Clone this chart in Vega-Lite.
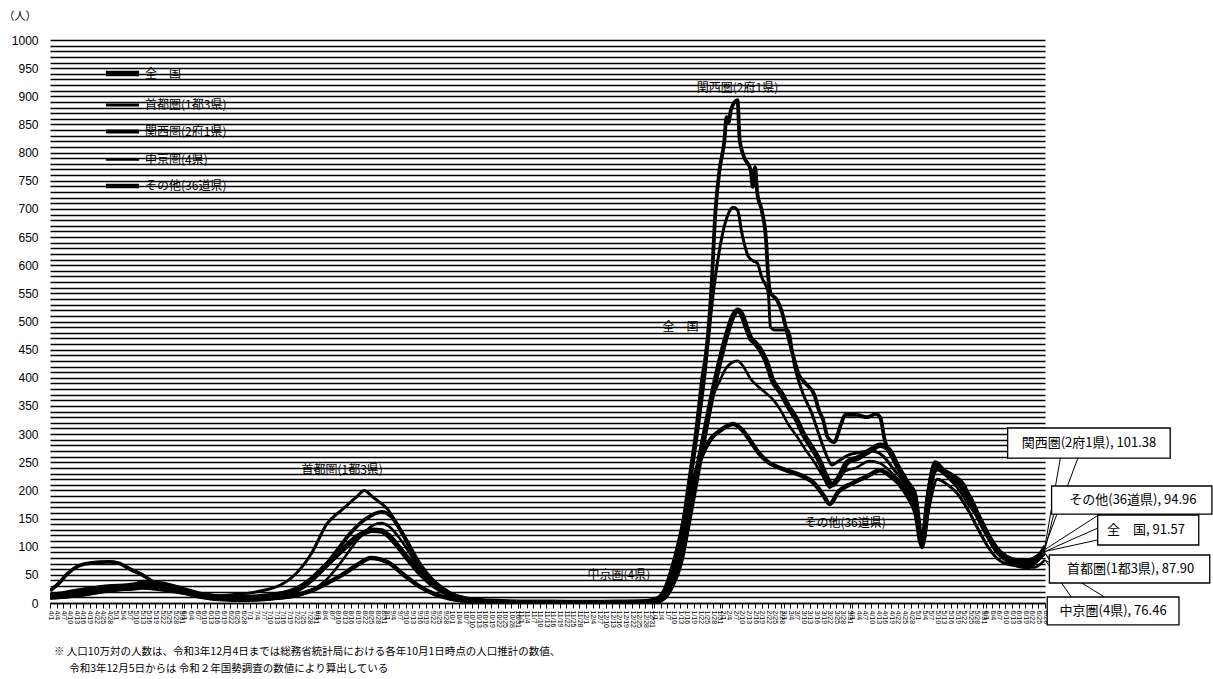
{
"$schema": "https://vega.github.io/schema/vega-lite/v6.json",
"width": 995,
"height": 563,
"autosize": "none",
"padding": {"left": 50, "top": 40, "right": 168, "bottom": 76},
"background": "white",
"config": {"view": {"stroke": null}, "font": "Noto Sans CJK JP"},
"title": {"text": ["※ 人口10万対の人数は、令和3年12月4日までは総務省統計局における各年10月1日時点の人口推計の数値、", "\u200b\u3000\u00a0\u00a0令和3年12月5日からは 令和２年国勢調査の数値により算出している"], "orient": "bottom", "anchor": "start", "frame": "group", "fontSize": 10.5, "fontWeight": "normal", "font": "Noto Sans CJK JP", "color": "#000", "lineHeight": 17, "offset": 19, "dx": 4},
"datasets": {
"series": [
{"d":"2021-04-01","s":"全　国","v":13},{"d":"2021-04-08","s":"全　国","v":17},{"d":"2021-04-15","s":"全　国","v":22},{"d":"2021-04-22","s":"全　国","v":26},{"d":"2021-04-29","s":"全　国","v":29},{"d":"2021-05-06","s":"全　国","v":30},{"d":"2021-05-13","s":"全　国","v":33},{"d":"2021-05-20","s":"全　国","v":31},{"d":"2021-05-27","s":"全　国","v":25},{"d":"2021-06-03","s":"全　国","v":18},{"d":"2021-06-10","s":"全　国","v":13},{"d":"2021-06-17","s":"全　国","v":10},{"d":"2021-06-24","s":"全　国","v":9},{"d":"2021-07-01","s":"全　国","v":10},{"d":"2021-07-08","s":"全　国","v":12},{"d":"2021-07-15","s":"全　国","v":16},{"d":"2021-07-22","s":"全　国","v":24},{"d":"2021-07-29","s":"全　国","v":42},{"d":"2021-08-05","s":"全　国","v":68},{"d":"2021-08-12","s":"全　国","v":94},{"d":"2021-08-19","s":"全　国","v":118},{"d":"2021-08-26","s":"全　国","v":129},{"d":"2021-08-30","s":"全　国","v":128},{"d":"2021-09-02","s":"全　国","v":120},{"d":"2021-09-09","s":"全　国","v":88},{"d":"2021-09-16","s":"全　国","v":55},{"d":"2021-09-23","s":"全　国","v":30},{"d":"2021-09-30","s":"全　国","v":15},{"d":"2021-10-07","s":"全　国","v":7},{"d":"2021-10-14","s":"全　国","v":4},{"d":"2021-10-21","s":"全　国","v":2.5},{"d":"2021-11-01","s":"全　国","v":1.5},{"d":"2021-11-15","s":"全　国","v":1.2},{"d":"2021-12-01","s":"全　国","v":1},{"d":"2021-12-15","s":"全　国","v":1.2},{"d":"2021-12-28","s":"全　国","v":2},{"d":"2022-01-03","s":"全　国","v":4},{"d":"2022-01-06","s":"全　国","v":12},{"d":"2022-01-09","s":"全　国","v":30},{"d":"2022-01-13","s":"全　国","v":72},{"d":"2022-01-16","s":"全　国","v":130},{"d":"2022-01-20","s":"全　国","v":215},{"d":"2022-01-24","s":"全　国","v":300},{"d":"2022-01-27","s":"全　国","v":360},{"d":"2022-01-31","s":"全　国","v":430},{"d":"2022-02-03","s":"全　国","v":475},{"d":"2022-02-06","s":"全　国","v":510},{"d":"2022-02-08","s":"全　国","v":520},{"d":"2022-02-10","s":"全　国","v":512},{"d":"2022-02-12","s":"全　国","v":490},{"d":"2022-02-14","s":"全　国","v":470},{"d":"2022-02-16","s":"全　国","v":462},{"d":"2022-02-18","s":"全　国","v":452},{"d":"2022-02-21","s":"全　国","v":430},{"d":"2022-02-24","s":"全　国","v":395},{"d":"2022-02-28","s":"全　国","v":372},{"d":"2022-03-03","s":"全　国","v":350},{"d":"2022-03-07","s":"全　国","v":325},{"d":"2022-03-10","s":"全　国","v":300},{"d":"2022-03-14","s":"全　国","v":275},{"d":"2022-03-17","s":"全　国","v":255},{"d":"2022-03-20","s":"全　国","v":228},{"d":"2022-03-23","s":"全　国","v":210},{"d":"2022-03-26","s":"全　国","v":222},{"d":"2022-03-30","s":"全　国","v":250},{"d":"2022-04-04","s":"全　国","v":258},{"d":"2022-04-09","s":"全　国","v":270},{"d":"2022-04-14","s":"全　国","v":280},{"d":"2022-04-18","s":"全　国","v":272},{"d":"2022-04-22","s":"全　国","v":242},{"d":"2022-04-26","s":"全　国","v":215},{"d":"2022-04-30","s":"全　国","v":180},{"d":"2022-05-03","s":"全　国","v":106},{"d":"2022-05-06","s":"全　国","v":190},{"d":"2022-05-09","s":"全　国","v":245},{"d":"2022-05-13","s":"全　国","v":232},{"d":"2022-05-17","s":"全　国","v":222},{"d":"2022-05-21","s":"全　国","v":208},{"d":"2022-05-25","s":"全　国","v":185},{"d":"2022-05-29","s":"全　国","v":150},{"d":"2022-06-02","s":"全　国","v":120},{"d":"2022-06-06","s":"全　国","v":96},{"d":"2022-06-10","s":"全　国","v":82},{"d":"2022-06-15","s":"全　国","v":75},{"d":"2022-06-20","s":"全　国","v":74},{"d":"2022-06-24","s":"全　国","v":80},{"d":"2022-06-28","s":"全　国","v":91.57},

{"d":"2021-04-01","s":"首都圏(1都3県)","v":14},{"d":"2021-04-08","s":"首都圏(1都3県)","v":16},{"d":"2021-04-15","s":"首都圏(1都3県)","v":18},{"d":"2021-04-22","s":"首都圏(1都3県)","v":22},{"d":"2021-04-29","s":"首都圏(1都3県)","v":25},{"d":"2021-05-06","s":"首都圏(1都3県)","v":24},{"d":"2021-05-13","s":"首都圏(1都3県)","v":26},{"d":"2021-05-20","s":"首都圏(1都3県)","v":24},{"d":"2021-05-27","s":"首都圏(1都3県)","v":20},{"d":"2021-06-03","s":"首都圏(1都3県)","v":16},{"d":"2021-06-10","s":"首都圏(1都3県)","v":13},{"d":"2021-06-17","s":"首都圏(1都3県)","v":13},{"d":"2021-06-24","s":"首都圏(1都3県)","v":15},{"d":"2021-07-01","s":"首都圏(1都3県)","v":18},{"d":"2021-07-08","s":"首都圏(1都3県)","v":23},{"d":"2021-07-15","s":"首都圏(1都3県)","v":32},{"d":"2021-07-22","s":"首都圏(1都3県)","v":52},{"d":"2021-07-29","s":"首都圏(1都3県)","v":88},{"d":"2021-08-05","s":"首都圏(1都3県)","v":140},{"d":"2021-08-12","s":"首都圏(1都3県)","v":166},{"d":"2021-08-19","s":"首都圏(1都3県)","v":190},{"d":"2021-08-22","s":"首都圏(1都3県)","v":200},{"d":"2021-08-26","s":"首都圏(1都3県)","v":188},{"d":"2021-09-02","s":"首都圏(1都3県)","v":165},{"d":"2021-09-09","s":"首都圏(1都3県)","v":118},{"d":"2021-09-16","s":"首都圏(1都3県)","v":66},{"d":"2021-09-23","s":"首都圏(1都3県)","v":33},{"d":"2021-09-30","s":"首都圏(1都3県)","v":15},{"d":"2021-10-07","s":"首都圏(1都3県)","v":7},{"d":"2021-10-14","s":"首都圏(1都3県)","v":3.5},{"d":"2021-10-21","s":"首都圏(1都3県)","v":2},{"d":"2021-11-01","s":"首都圏(1都3県)","v":1},{"d":"2021-11-15","s":"首都圏(1都3県)","v":0.8},{"d":"2021-12-01","s":"首都圏(1都3県)","v":0.8},{"d":"2021-12-15","s":"首都圏(1都3県)","v":1},{"d":"2021-12-28","s":"首都圏(1都3県)","v":2},{"d":"2022-01-03","s":"首都圏(1都3県)","v":5},{"d":"2022-01-06","s":"首都圏(1都3県)","v":14},{"d":"2022-01-09","s":"首都圏(1都3県)","v":40},{"d":"2022-01-13","s":"首都圏(1都3県)","v":95},{"d":"2022-01-16","s":"首都圏(1都3県)","v":170},{"d":"2022-01-20","s":"首都圏(1都3県)","v":280},{"d":"2022-01-24","s":"首都圏(1都3県)","v":400},{"d":"2022-01-28","s":"首都圏(1都3県)","v":551},{"d":"2022-01-31","s":"首都圏(1都3県)","v":632},{"d":"2022-02-04","s":"首都圏(1都3県)","v":693},{"d":"2022-02-06","s":"首都圏(1都3県)","v":703},{"d":"2022-02-08","s":"首都圏(1都3県)","v":698},{"d":"2022-02-10","s":"首都圏(1都3県)","v":657},{"d":"2022-02-13","s":"首都圏(1都3県)","v":615},{"d":"2022-02-16","s":"首都圏(1都3県)","v":606},{"d":"2022-02-17","s":"首都圏(1都3県)","v":604},{"d":"2022-02-19","s":"首都圏(1都3県)","v":579},{"d":"2022-02-22","s":"首都圏(1都3県)","v":551},{"d":"2022-02-23","s":"首都圏(1都3県)","v":490},{"d":"2022-02-25","s":"首都圏(1都3県)","v":485},{"d":"2022-03-03","s":"首都圏(1都3県)","v":485},{"d":"2022-03-06","s":"首都圏(1都3県)","v":420},{"d":"2022-03-10","s":"首都圏(1都3県)","v":370},{"d":"2022-03-14","s":"首都圏(1都3県)","v":335},{"d":"2022-03-17","s":"首都圏(1都3県)","v":300},{"d":"2022-03-21","s":"首都圏(1都3県)","v":258},{"d":"2022-03-23","s":"首都圏(1都3県)","v":245},{"d":"2022-03-26","s":"首都圏(1都3県)","v":252},{"d":"2022-03-30","s":"首都圏(1都3県)","v":262},{"d":"2022-04-05","s":"首都圏(1都3県)","v":268},{"d":"2022-04-10","s":"首都圏(1都3県)","v":270},{"d":"2022-04-15","s":"首都圏(1都3県)","v":262},{"d":"2022-04-20","s":"首都圏(1都3県)","v":238},{"d":"2022-04-25","s":"首都圏(1都3県)","v":212},{"d":"2022-04-30","s":"首都圏(1都3県)","v":168},{"d":"2022-05-03","s":"首都圏(1都3県)","v":98},{"d":"2022-05-06","s":"首都圏(1都3県)","v":165},{"d":"2022-05-10","s":"首都圏(1都3県)","v":220},{"d":"2022-05-14","s":"首都圏(1都3県)","v":212},{"d":"2022-05-19","s":"首都圏(1都3県)","v":195},{"d":"2022-05-24","s":"首都圏(1都3県)","v":165},{"d":"2022-05-29","s":"首都圏(1都3県)","v":128},{"d":"2022-06-02","s":"首都圏(1都3県)","v":100},{"d":"2022-06-06","s":"首都圏(1都3県)","v":80},{"d":"2022-06-12","s":"首都圏(1都3県)","v":68},{"d":"2022-06-18","s":"首都圏(1都3県)","v":66},{"d":"2022-06-23","s":"首都圏(1都3県)","v":72},{"d":"2022-06-28","s":"首都圏(1都3県)","v":87.9},

{"d":"2021-04-01","s":"関西圏(2府1県)","v":22},{"d":"2021-04-05","s":"関西圏(2府1県)","v":35},{"d":"2021-04-09","s":"関西圏(2府1県)","v":52},{"d":"2021-04-14","s":"関西圏(2府1県)","v":66},{"d":"2021-04-19","s":"関西圏(2府1県)","v":71},{"d":"2021-04-28","s":"関西圏(2府1県)","v":73},{"d":"2021-05-02","s":"関西圏(2府1県)","v":71},{"d":"2021-05-08","s":"関西圏(2府1県)","v":59},{"d":"2021-05-13","s":"関西圏(2府1県)","v":50},{"d":"2021-05-19","s":"関西圏(2府1県)","v":35},{"d":"2021-05-28","s":"関西圏(2府1県)","v":23},{"d":"2021-06-08","s":"関西圏(2府1県)","v":11},{"d":"2021-06-23","s":"関西圏(2府1県)","v":5},{"d":"2021-07-05","s":"関西圏(2府1県)","v":6},{"d":"2021-07-15","s":"関西圏(2府1県)","v":11},{"d":"2021-07-26","s":"関西圏(2府1県)","v":30},{"d":"2021-08-02","s":"関西圏(2府1県)","v":55},{"d":"2021-08-09","s":"関西圏(2府1県)","v":90},{"d":"2021-08-16","s":"関西圏(2府1県)","v":125},{"d":"2021-08-23","s":"関西圏(2府1県)","v":150},{"d":"2021-08-30","s":"関西圏(2府1県)","v":162},{"d":"2021-09-03","s":"関西圏(2府1県)","v":155},{"d":"2021-09-09","s":"関西圏(2府1県)","v":120},{"d":"2021-09-16","s":"関西圏(2府1県)","v":72},{"d":"2021-09-23","s":"関西圏(2府1県)","v":38},{"d":"2021-09-30","s":"関西圏(2府1県)","v":18},{"d":"2021-10-07","s":"関西圏(2府1県)","v":8},{"d":"2021-10-14","s":"関西圏(2府1県)","v":4},{"d":"2021-10-21","s":"関西圏(2府1県)","v":2.5},{"d":"2021-11-01","s":"関西圏(2府1県)","v":1.5},{"d":"2021-11-15","s":"関西圏(2府1県)","v":1},{"d":"2021-12-01","s":"関西圏(2府1県)","v":1},{"d":"2021-12-15","s":"関西圏(2府1県)","v":1.2},{"d":"2021-12-28","s":"関西圏(2府1県)","v":2},{"d":"2022-01-03","s":"関西圏(2府1県)","v":5},{"d":"2022-01-06","s":"関西圏(2府1県)","v":14},{"d":"2022-01-09","s":"関西圏(2府1県)","v":38},{"d":"2022-01-13","s":"関西圏(2府1県)","v":105},{"d":"2022-01-16","s":"関西圏(2府1県)","v":190},{"d":"2022-01-20","s":"関西圏(2府1県)","v":300},{"d":"2022-01-23","s":"関西圏(2府1県)","v":400},{"d":"2022-01-25","s":"関西圏(2府1県)","v":455},{"d":"2022-01-27","s":"関西圏(2府1県)","v":551},{"d":"2022-01-29","s":"関西圏(2府1県)","v":698},{"d":"2022-01-31","s":"関西圏(2府1県)","v":774},{"d":"2022-02-02","s":"関西圏(2府1県)","v":820},{"d":"2022-02-03","s":"関西圏(2府1県)","v":863},{"d":"2022-02-04","s":"関西圏(2府1県)","v":854},{"d":"2022-02-05","s":"関西圏(2府1県)","v":876},{"d":"2022-02-08","s":"関西圏(2府1県)","v":893},{"d":"2022-02-09","s":"関西圏(2府1県)","v":822},{"d":"2022-02-11","s":"関西圏(2府1県)","v":792},{"d":"2022-02-14","s":"関西圏(2府1県)","v":769},{"d":"2022-02-15","s":"関西圏(2府1県)","v":739},{"d":"2022-02-16","s":"関西圏(2府1県)","v":774},{"d":"2022-02-17","s":"関西圏(2府1県)","v":728},{"d":"2022-02-19","s":"関西圏(2府1県)","v":698},{"d":"2022-02-21","s":"関西圏(2府1県)","v":645},{"d":"2022-02-22","s":"関西圏(2府1県)","v":579},{"d":"2022-02-23","s":"関西圏(2府1県)","v":551},{"d":"2022-02-26","s":"関西圏(2府1県)","v":538},{"d":"2022-02-28","s":"関西圏(2府1県)","v":520},{"d":"2022-03-02","s":"関西圏(2府1県)","v":490},{"d":"2022-03-05","s":"関西圏(2府1県)","v":444},{"d":"2022-03-08","s":"関西圏(2府1県)","v":405},{"d":"2022-03-11","s":"関西圏(2府1県)","v":390},{"d":"2022-03-15","s":"関西圏(2府1県)","v":370},{"d":"2022-03-17","s":"関西圏(2府1県)","v":343},{"d":"2022-03-19","s":"関西圏(2府1県)","v":325},{"d":"2022-03-21","s":"関西圏(2府1県)","v":295},{"d":"2022-03-24","s":"関西圏(2府1県)","v":286},{"d":"2022-03-27","s":"関西圏(2府1県)","v":316},{"d":"2022-03-29","s":"関西圏(2府1県)","v":334},{"d":"2022-04-03","s":"関西圏(2府1県)","v":334},{"d":"2022-04-08","s":"関西圏(2府1県)","v":330},{"d":"2022-04-12","s":"関西圏(2府1県)","v":336},{"d":"2022-04-14","s":"関西圏(2府1県)","v":329},{"d":"2022-04-16","s":"関西圏(2府1県)","v":290},{"d":"2022-04-21","s":"関西圏(2府1県)","v":250},{"d":"2022-04-25","s":"関西圏(2府1県)","v":222},{"d":"2022-04-30","s":"関西圏(2府1県)","v":192},{"d":"2022-05-03","s":"関西圏(2府1県)","v":103},{"d":"2022-05-06","s":"関西圏(2府1県)","v":200},{"d":"2022-05-09","s":"関西圏(2府1県)","v":250},{"d":"2022-05-13","s":"関西圏(2府1県)","v":236},{"d":"2022-05-17","s":"関西圏(2府1県)","v":227},{"d":"2022-05-22","s":"関西圏(2府1県)","v":210},{"d":"2022-05-26","s":"関西圏(2府1県)","v":174},{"d":"2022-05-31","s":"関西圏(2府1県)","v":139},{"d":"2022-06-04","s":"関西圏(2府1県)","v":103},{"d":"2022-06-09","s":"関西圏(2府1県)","v":80},{"d":"2022-06-16","s":"関西圏(2府1県)","v":71},{"d":"2022-06-23","s":"関西圏(2府1県)","v":76},{"d":"2022-06-28","s":"関西圏(2府1県)","v":101.38},

{"d":"2021-04-01","s":"中京圏(4県)","v":8},{"d":"2021-04-08","s":"中京圏(4県)","v":10},{"d":"2021-04-15","s":"中京圏(4県)","v":13},{"d":"2021-04-22","s":"中京圏(4県)","v":18},{"d":"2021-04-29","s":"中京圏(4県)","v":24},{"d":"2021-05-06","s":"中京圏(4県)","v":28},{"d":"2021-05-13","s":"中京圏(4県)","v":38},{"d":"2021-05-20","s":"中京圏(4県)","v":36},{"d":"2021-05-27","s":"中京圏(4県)","v":28},{"d":"2021-06-03","s":"中京圏(4県)","v":20},{"d":"2021-06-10","s":"中京圏(4県)","v":12},{"d":"2021-06-17","s":"中京圏(4県)","v":8},{"d":"2021-06-24","s":"中京圏(4県)","v":6},{"d":"2021-07-01","s":"中京圏(4県)","v":5},{"d":"2021-07-08","s":"中京圏(4県)","v":6},{"d":"2021-07-15","s":"中京圏(4県)","v":8},{"d":"2021-07-22","s":"中京圏(4県)","v":12},{"d":"2021-07-29","s":"中京圏(4県)","v":22},{"d":"2021-08-05","s":"中京圏(4県)","v":42},{"d":"2021-08-12","s":"中京圏(4県)","v":75},{"d":"2021-08-19","s":"中京圏(4県)","v":112},{"d":"2021-08-26","s":"中京圏(4県)","v":138},{"d":"2021-08-30","s":"中京圏(4県)","v":142},{"d":"2021-09-02","s":"中京圏(4県)","v":137},{"d":"2021-09-09","s":"中京圏(4県)","v":105},{"d":"2021-09-16","s":"中京圏(4県)","v":62},{"d":"2021-09-23","s":"中京圏(4県)","v":32},{"d":"2021-09-30","s":"中京圏(4県)","v":14},{"d":"2021-10-07","s":"中京圏(4県)","v":6},{"d":"2021-10-14","s":"中京圏(4県)","v":3},{"d":"2021-10-21","s":"中京圏(4県)","v":1.5},{"d":"2021-11-01","s":"中京圏(4県)","v":1},{"d":"2021-11-15","s":"中京圏(4県)","v":0.7},{"d":"2021-12-01","s":"中京圏(4県)","v":0.6},{"d":"2021-12-15","s":"中京圏(4県)","v":0.8},{"d":"2021-12-28","s":"中京圏(4県)","v":1.5},{"d":"2022-01-03","s":"中京圏(4県)","v":3},{"d":"2022-01-06","s":"中京圏(4県)","v":8},{"d":"2022-01-10","s":"中京圏(4県)","v":35},{"d":"2022-01-13","s":"中京圏(4県)","v":75},{"d":"2022-01-17","s":"中京圏(4県)","v":165},{"d":"2022-01-20","s":"中京圏(4県)","v":235},{"d":"2022-01-24","s":"中京圏(4県)","v":310},{"d":"2022-01-27","s":"中京圏(4県)","v":358},{"d":"2022-01-31","s":"中京圏(4県)","v":395},{"d":"2022-02-03","s":"中京圏(4県)","v":418},{"d":"2022-02-08","s":"中京圏(4県)","v":430},{"d":"2022-02-11","s":"中京圏(4県)","v":418},{"d":"2022-02-14","s":"中京圏(4県)","v":398},{"d":"2022-02-17","s":"中京圏(4県)","v":386},{"d":"2022-02-20","s":"中京圏(4県)","v":376},{"d":"2022-02-24","s":"中京圏(4県)","v":362},{"d":"2022-02-28","s":"中京圏(4県)","v":340},{"d":"2022-03-03","s":"中京圏(4県)","v":318},{"d":"2022-03-07","s":"中京圏(4県)","v":296},{"d":"2022-03-11","s":"中京圏(4県)","v":272},{"d":"2022-03-15","s":"中京圏(4県)","v":250},{"d":"2022-03-19","s":"中京圏(4県)","v":224},{"d":"2022-03-22","s":"中京圏(4県)","v":205},{"d":"2022-03-25","s":"中京圏(4県)","v":220},{"d":"2022-03-29","s":"中京圏(4県)","v":234},{"d":"2022-04-03","s":"中京圏(4県)","v":240},{"d":"2022-04-09","s":"中京圏(4県)","v":252},{"d":"2022-04-14","s":"中京圏(4県)","v":248},{"d":"2022-04-19","s":"中京圏(4県)","v":232},{"d":"2022-04-25","s":"中京圏(4県)","v":205},{"d":"2022-04-30","s":"中京圏(4県)","v":168},{"d":"2022-05-03","s":"中京圏(4県)","v":100},{"d":"2022-05-07","s":"中京圏(4県)","v":205},{"d":"2022-05-10","s":"中京圏(4県)","v":236},{"d":"2022-05-15","s":"中京圏(4県)","v":222},{"d":"2022-05-20","s":"中京圏(4県)","v":200},{"d":"2022-05-25","s":"中京圏(4県)","v":170},{"d":"2022-05-31","s":"中京圏(4県)","v":138},{"d":"2022-06-05","s":"中京圏(4県)","v":105},{"d":"2022-06-10","s":"中京圏(4県)","v":80},{"d":"2022-06-17","s":"中京圏(4県)","v":65},{"d":"2022-06-23","s":"中京圏(4県)","v":63},{"d":"2022-06-28","s":"中京圏(4県)","v":76.46},

{"d":"2021-04-01","s":"その他(36道県)","v":10},{"d":"2021-04-08","s":"その他(36道県)","v":12},{"d":"2021-04-15","s":"その他(36道県)","v":15},{"d":"2021-04-22","s":"その他(36道県)","v":19},{"d":"2021-04-29","s":"その他(36道県)","v":23},{"d":"2021-05-06","s":"その他(36道県)","v":26},{"d":"2021-05-13","s":"その他(36道県)","v":33},{"d":"2021-05-20","s":"その他(36道県)","v":35},{"d":"2021-05-27","s":"その他(36道県)","v":30},{"d":"2021-06-03","s":"その他(36道県)","v":22},{"d":"2021-06-10","s":"その他(36道県)","v":15},{"d":"2021-06-17","s":"その他(36道県)","v":11},{"d":"2021-06-24","s":"その他(36道県)","v":9},{"d":"2021-07-01","s":"その他(36道県)","v":8},{"d":"2021-07-08","s":"その他(36道県)","v":8},{"d":"2021-07-15","s":"その他(36道県)","v":10},{"d":"2021-07-22","s":"その他(36道県)","v":14},{"d":"2021-07-29","s":"その他(36道県)","v":22},{"d":"2021-08-05","s":"その他(36道県)","v":35},{"d":"2021-08-12","s":"その他(36道県)","v":50},{"d":"2021-08-19","s":"その他(36道県)","v":68},{"d":"2021-08-25","s":"その他(36道県)","v":80},{"d":"2021-09-02","s":"その他(36道県)","v":72},{"d":"2021-09-09","s":"その他(36道県)","v":50},{"d":"2021-09-16","s":"その他(36道県)","v":30},{"d":"2021-09-23","s":"その他(36道県)","v":16},{"d":"2021-09-30","s":"その他(36道県)","v":8},{"d":"2021-10-07","s":"その他(36道県)","v":4},{"d":"2021-10-14","s":"その他(36道県)","v":2.5},{"d":"2021-10-21","s":"その他(36道県)","v":1.5},{"d":"2021-11-01","s":"その他(36道県)","v":1},{"d":"2021-11-15","s":"その他(36道県)","v":0.8},{"d":"2021-12-01","s":"その他(36道県)","v":0.7},{"d":"2021-12-15","s":"その他(36道県)","v":1},{"d":"2021-12-28","s":"その他(36道県)","v":2.5},{"d":"2022-01-03","s":"その他(36道県)","v":9},{"d":"2022-01-06","s":"その他(36道県)","v":24},{"d":"2022-01-09","s":"その他(36道県)","v":58},{"d":"2022-01-13","s":"その他(36道県)","v":118},{"d":"2022-01-16","s":"その他(36道県)","v":175},{"d":"2022-01-20","s":"その他(36道県)","v":232},{"d":"2022-01-24","s":"その他(36道県)","v":272},{"d":"2022-01-27","s":"その他(36道県)","v":292},{"d":"2022-01-31","s":"その他(36道県)","v":306},{"d":"2022-02-06","s":"その他(36道県)","v":318},{"d":"2022-02-10","s":"その他(36道県)","v":308},{"d":"2022-02-14","s":"その他(36道県)","v":287},{"d":"2022-02-18","s":"その他(36道県)","v":265},{"d":"2022-02-22","s":"その他(36道県)","v":250},{"d":"2022-02-26","s":"その他(36道県)","v":242},{"d":"2022-03-02","s":"その他(36道県)","v":236},{"d":"2022-03-08","s":"その他(36道県)","v":228},{"d":"2022-03-15","s":"その他(36道県)","v":212},{"d":"2022-03-19","s":"その他(36道県)","v":192},{"d":"2022-03-22","s":"その他(36道県)","v":176},{"d":"2022-03-26","s":"その他(36道県)","v":198},{"d":"2022-04-01","s":"その他(36道県)","v":212},{"d":"2022-04-08","s":"その他(36道県)","v":225},{"d":"2022-04-14","s":"その他(36道県)","v":236},{"d":"2022-04-17","s":"その他(36道県)","v":230},{"d":"2022-04-22","s":"その他(36道県)","v":214},{"d":"2022-04-27","s":"その他(36道県)","v":186},{"d":"2022-04-30","s":"その他(36道県)","v":160},{"d":"2022-05-03","s":"その他(36道県)","v":102},{"d":"2022-05-06","s":"その他(36道県)","v":198},{"d":"2022-05-09","s":"その他(36道県)","v":240},{"d":"2022-05-13","s":"その他(36道県)","v":234},{"d":"2022-05-18","s":"その他(36道県)","v":220},{"d":"2022-05-23","s":"その他(36道県)","v":194},{"d":"2022-05-28","s":"その他(36道県)","v":160},{"d":"2022-06-02","s":"その他(36道県)","v":120},{"d":"2022-06-07","s":"その他(36道県)","v":90},{"d":"2022-06-13","s":"その他(36道県)","v":70},{"d":"2022-06-20","s":"その他(36道県)","v":64},{"d":"2022-06-25","s":"その他(36道県)","v":78},{"d":"2022-06-28","s":"その他(36道県)","v":94.96}
],
"labels": [
{"d":"2022-02-08","v":915,"t":"関西圏(2府1県)"},
{"d":"2021-08-12","v":236,"t":"首都圏(1都3県)"},
{"d":"2022-01-13","v":490,"t":"全　国"},
{"d":"2022-03-29","v":142,"t":"その他(36道県)"},
{"d":"2021-12-16","v":50,"t":"中京圏(4県)"}
],
"leaders": [
{"d":"2022-06-28","v":101.38,"d2":"2022-07-05","v2":257.5},
{"d":"2022-06-28","v":101.38,"d2":"2022-07-13","v2":257.5},
{"d":"2022-06-28","v":94.96,"d2":"2022-07-02","v2":158},
{"d":"2022-06-28","v":94.96,"d2":"2022-07-23","v2":158},
{"d":"2022-06-28","v":91.57,"d2":"2022-07-22","v2":133},
{"d":"2022-06-28","v":91.57,"d2":"2022-07-22","v2":112},
{"d":"2022-06-28","v":87.9,"d2":"2022-07-01","v2":76},
{"d":"2022-06-28","v":87.9,"d2":"2022-07-07","v2":36},
{"d":"2022-06-28","v":76.46,"d2":"2022-07-10","v2":10.7},
{"d":"2022-06-28","v":76.46,"d2":"2022-07-25","v2":10.7}
],
"boxes": [
{"d":"2022-06-11","d2":"2022-08-24","v":310.8,"v2":257.5,"dc":"2022-07-18","vc":284,"t":"関西圏(2府1県), 101.38"},
{"d":"2022-07-01","d2":"2022-09-12","v":207.8,"v2":158,"dc":"2022-08-07","vc":183,"t":"その他(36道県), 94.96"},
{"d":"2022-07-22","d2":"2022-09-06","v":156.3,"v2":103,"dc":"2022-08-13","vc":129.7,"t":"全　国, 91.57"},
{"d":"2022-06-30","d2":"2022-09-11","v":85.3,"v2":35.5,"dc":"2022-08-06","vc":60.4,"t":"首都圏(1都3県), 87.90"},
{"d":"2022-06-29","d2":"2022-08-28","v":10.7,"v2":-39,"dc":"2022-07-29","vc":-14,"t":"中京圏(4県), 76.46"}
]
},
"layer": [
{
"data": {"name": "series"},
"mark": {"type": "line", "interpolate": "monotone", "clip": true},
"encoding": {
"x": {"field": "d", "type": "temporal",
 "scale": {"type": "utc", "domain": [{"year": 2021, "month": 4, "date": 1, "utc": true}, {"year": 2022, "month": 6, "date": 28, "utc": true}], "nice": false},
 "axis": {"title": null, "grid": false, "tickCount": {"interval": "day", "step": 3}, "format": "%-m/%-d", "labelAngle": 90, "labelFontSize": 7, "labelFont": "Liberation Sans", "labelColor": "#000", "labelOverlap": false, "labelPadding": 2, "ticks": true, "tickColor": "#000", "tickSize": 5, "domain": true, "domainColor": "#000", "domainWidth": 1.3}},
"y": {"field": "v", "type": "quantitative",
 "scale": {"domain": [0, 1000], "nice": false, "zero": true},
 "axis": {"title": "（人）", "titleAngle": 0, "titleAlign": "left", "titleBaseline": "middle", "titleX": -47, "titleY": -24, "titleFontSize": 11, "titleFontWeight": "normal", "titleColor": "#000", "tickCount": 100, "format": "d", "labelExpr": "datum.value % 50 === 0 ? datum.label : ''", "labelFontSize": 12, "labelFont": "Liberation Sans", "labelColor": "#000", "labelPadding": 12, "ticks": false, "domain": false, "grid": true, "gridColor": "#000", "gridWidth": 1.3, "gridOpacity": 1}},
"color": {"field": "s", "type": "ordinal",
 "scale": {"type": "ordinal", "domain": ["全　国", "首都圏(1都3県)", "関西圏(2府1県)", "中京圏(4県)", "その他(36道県)"], "range": ["#000000", "#000000", "#000000", "#000000", "#000000"]},
 "legend": {"orient": "none", "legendX": 53, "legendY": 14, "title": null, "symbolType": "stroke", "symbolSize": 1100, "labelFontSize": 12, "labelFont": "Noto Sans CJK JP", "labelColor": "#000", "rowPadding": 1.5, "labelOffset": 3, "padding": 0}},
"strokeWidth": {"field": "s", "type": "ordinal",
 "scale": {"type": "ordinal", "domain": ["全　国", "首都圏(1都3県)", "関西圏(2府1県)", "中京圏(4県)", "その他(36道県)"], "range": [5.5, 3, 3.8, 2.6, 4.5]},
 "legend": {"orient": "none", "legendX": 53, "legendY": 14, "title": null, "symbolType": "stroke", "symbolSize": 1100, "labelFontSize": 12, "labelFont": "Noto Sans CJK JP", "labelColor": "#000", "rowPadding": 1.5, "labelOffset": 3, "padding": 0}}
}
},
{
"data": {"name": "labels"},
"mark": {"type": "text", "fontSize": 12, "font": "Noto Sans CJK JP", "color": "#000", "align": "center", "baseline": "middle"},
"encoding": {
"x": {"field": "d", "type": "temporal"},
"y": {"field": "v", "type": "quantitative"},
"text": {"field": "t"}
}
},
{
"data": {"name": "leaders"},
"mark": {"type": "rule", "clip": false, "color": "#000", "strokeWidth": 1},
"encoding": {
"x": {"field": "d", "type": "temporal"},
"y": {"field": "v", "type": "quantitative"},
"x2": {"field": "d2"},
"y2": {"field": "v2"}
}
},
{
"data": {"name": "boxes"},
"mark": {"type": "rect", "clip": false, "fill": "#ffffff", "stroke": "#000", "strokeWidth": 1.3},
"encoding": {
"x": {"field": "d", "type": "temporal"},
"x2": {"field": "d2"},
"y": {"field": "v", "type": "quantitative"},
"y2": {"field": "v2"}
}
},
{
"data": {"name": "boxes"},
"mark": {"type": "text", "clip": false, "fontSize": 13, "font": "Noto Sans CJK JP", "color": "#000", "align": "center", "baseline": "middle"},
"encoding": {
"x": {"field": "dc", "type": "temporal"},
"y": {"field": "vc", "type": "quantitative"},
"text": {"field": "t"}
}
}
]
}
